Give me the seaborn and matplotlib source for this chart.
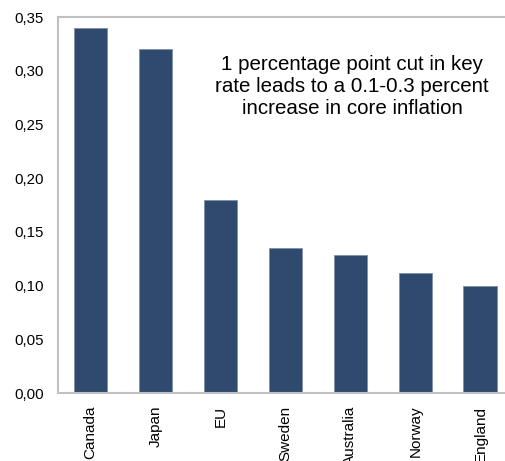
import matplotlib
matplotlib.use("Agg")
import matplotlib.pyplot as plt
import seaborn as sns
import pandas as pd
from matplotlib.ticker import FuncFormatter

countries = ["Canada", "Japan", "EU", "Sweden", "Australia", "Norway", "England"]
effect = [0.340, 0.320, 0.180, 0.135, 0.128, 0.112, 0.100]
y_ticks = [0.00, 0.05, 0.10, 0.15, 0.20, 0.25, 0.30, 0.35]
note = "1 percentage point cut in key\nrate leads to a 0.1-0.3 percent\nincrease in core inflation"

sns.set_style("white")
plt.rcParams["font.family"] = ["Liberation Sans", "DejaVu Sans"]
plt.rcParams["text.color"] = "black"

df = pd.DataFrame({"country": countries, "effect": effect})

fig = plt.figure(figsize=(5.06, 4.61), dpi=100)
ax = fig.add_axes([0.1146, 0.1475, 0.899, 0.8156])

sns.barplot(
    data=df,
    x="country",
    y="effect",
    color="#2F4A6E",
    saturation=1,
    width=0.52,
    edgecolor="#7F8FA6",
    linewidth=0.6,
    ax=ax
)

ax.set_ylim(0, 0.35)
ax.set_yticks(y_ticks)
ax.yaxis.set_major_formatter(
    FuncFormatter(lambda v, p: f"{v:.2f}".replace(".", ","))
)
ax.set_xlabel("")
ax.set_ylabel("")

ax.tick_params(axis="y", length=0, pad=10, labelsize=10.8, colors="black")
ax.tick_params(axis="x", length=0, pad=9, labelsize=11, colors="black",
               labelrotation=90)

for side in ["left", "top", "bottom", "right"]:
    ax.spines[side].set_color("#C0C0C0")
    ax.spines[side].set_linewidth(1.5)

# annotation box text, upper right of the plot
fig.text(
    352 / 506, 1 - 87 / 461,
    note,
    ha="center",
    va="center",
    fontsize=14.8,
    linespacing=1.2,
    color="black"
)

fig.savefig("out.png", dpi=100)
